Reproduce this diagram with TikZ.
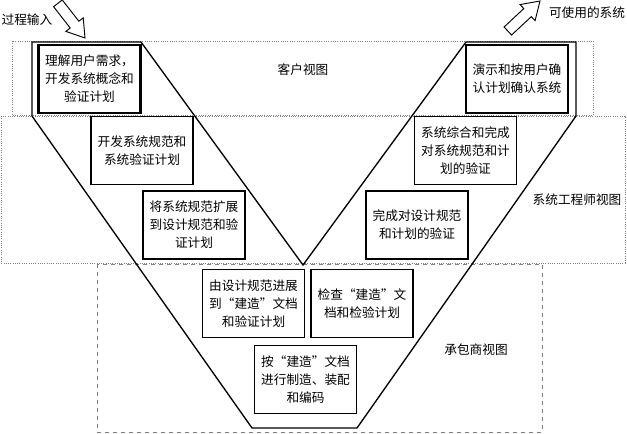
\documentclass[tikz,border=0pt]{standalone}
\usepackage{fontspec}
\setmainfont{Noto Sans CJK SC}
\begin{document}
\begin{tikzpicture}[x=0.75pt, y=-0.75pt,
	every node/.style={font=\fontsize{9.5pt}{13.5pt}\selectfont},
	stage/.style={draw, line width=1pt, minimum width=76.5pt, minimum height=51pt, inner sep=1pt, align=center},
	endstage/.style={stage, line width=1.8pt},
	view/.style={draw=gray, densely dotted, line width=0.7pt},
	contract/.style={draw=gray, dashed, line width=0.7pt},
	bigarrow/.style={draw, line width=0.7pt, line join=miter}]
\useasboundingbox (0,0) rectangle (627,433);

\draw[view] (12,41) rectangle (593,115);
\draw[view] (1,116) rectangle (625,263);
\draw[contract] (97,264) rectangle (542,432);
\node (custlabel) at (303,70) {客户视图};
\node (englabel) at (577,200) {系统工程师视图};
\node (contlabel) at (476,350) {承包商视图};

\draw[line width=1pt] (32,42) -- (141,42) -- (303,265) -- (466,42) -- (576,42) -- (576,116) -- (357,428) -- (252,428) -- (32,116) -- cycle;

\node[endstage] (needs) at (89.5,79) {理解用户需求，\\开发系统概念和\\验证计划};
\node[stage] (sysspec) at (142,150.5) {开发系统规范和\\系统验证计划};
\node[stage] (design) at (194,225) {将系统规范扩展\\到设计规范和验\\证计划};
\node[stage] (build) at (253.5,303.5) {由设计规范进展\\到“建造”文档\\和验证计划};
\node[stage] (check) at (362,303.5) {检查“建造”文\\档和检验计划};
\node[stage] (make) at (305.5,379.5) {按“建造”文档\\进行制造、装配\\和编码};
\node[stage] (verdesign) at (417,225) {完成对设计规范\\和计划的验证};
\node[stage] (integ) at (465.5,150.5) {系统综合和完成\\对系统规范和计\\划的验证};
\node[endstage] (demo) at (517,79) {演示和按用户确\\认计划确认系统};

\draw[bigarrow, shift={(85,38)}, rotate=-52] (0,0) -- (-17,-11) -- (-17,-5.5) -- (-44,-5.5) -- (-44,5.5) -- (-17,5.5) -- (-17,11) -- cycle;
\node (inlabel) at (27,20) {过程输入};
\draw[bigarrow, shift={(540,1)}, rotate=43] (0,0) -- (-17,-11) -- (-17,-5.5) -- (-44,-5.5) -- (-44,5.5) -- (-17,5.5) -- (-17,11) -- cycle;
\node (outlabel) at (587,13) {可使用的系统};

\end{tikzpicture}
\end{document}
